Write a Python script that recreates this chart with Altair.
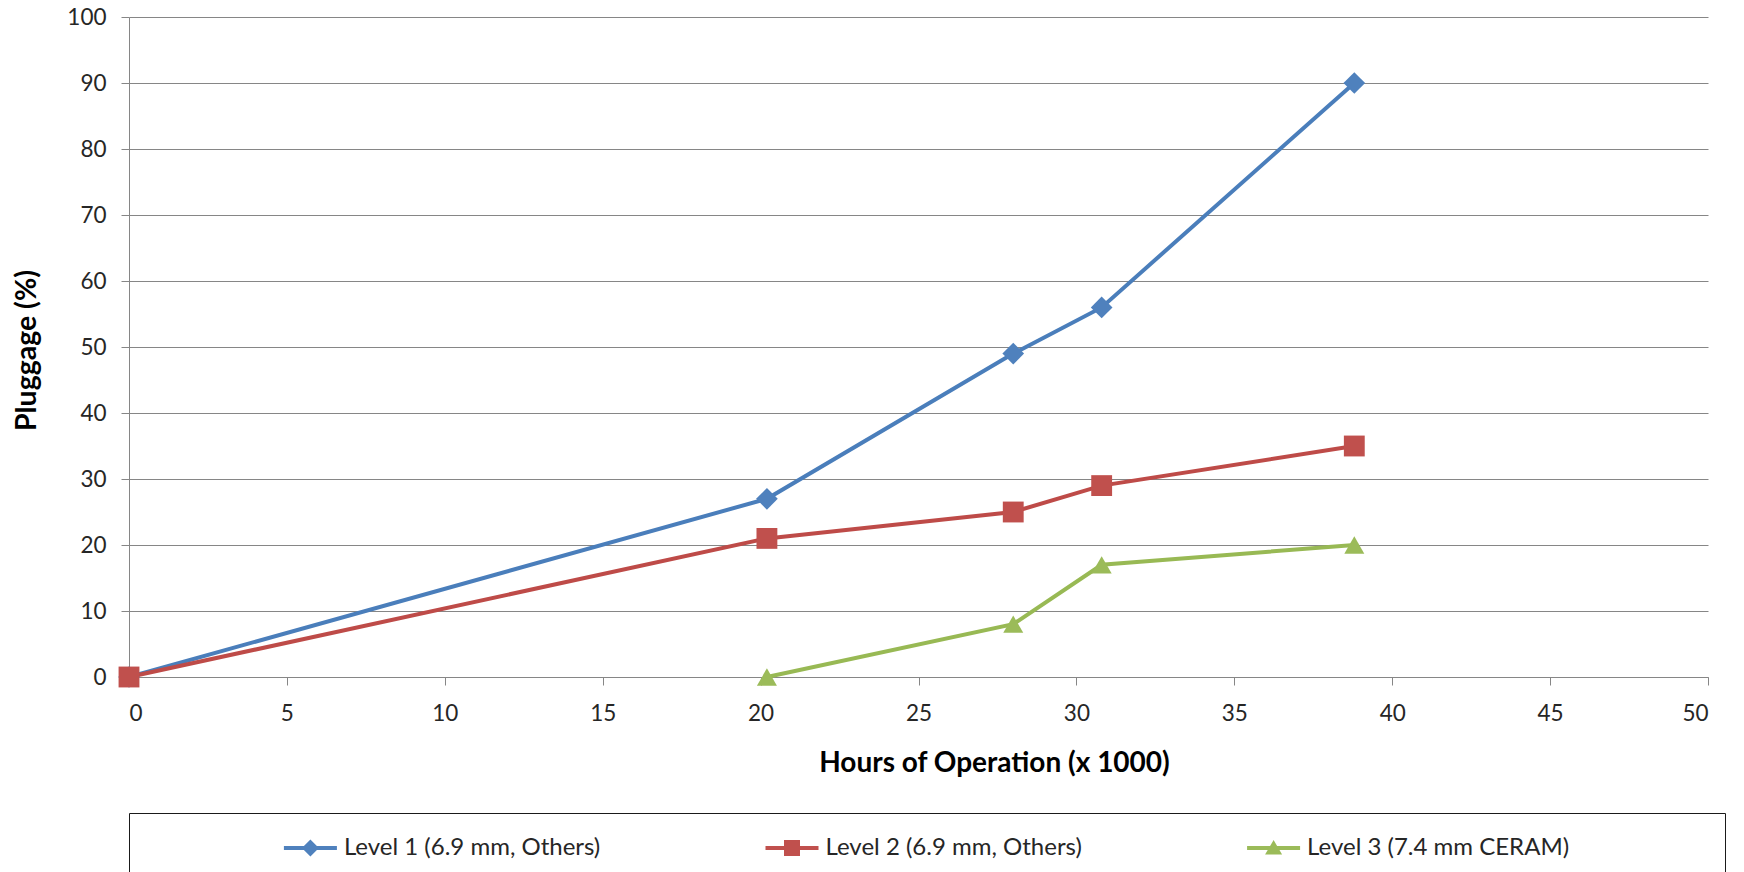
import altair as alt
import pandas as pd

# ---- data ----
SERIES = ["Level 1 (6.9 mm, Others)", "Level 2 (6.9 mm, Others)", "Level 3 (7.4 mm CERAM)"]
HOURS_L1 = [0, 20.2, 28.0, 30.8, 38.8]
PLUG_L1 = [0, 27, 49, 56, 90]
HOURS_L2 = [0, 20.2, 28.0, 30.8, 38.8]
PLUG_L2 = [0, 21, 25, 29, 35]
HOURS_L3 = [20.2, 28.0, 30.8, 38.8]
PLUG_L3 = [0, 8, 17, 20]
X_TICKS = [0, 5, 10, 15, 20, 25, 30, 35, 40, 45, 50]
Y_TICKS = [0, 10, 20, 30, 40, 50, 60, 70, 80, 90, 100]

# ---- styles ----
LINE_COLORS = ["#4A7EBB", "#BE4B48", "#98B954"]
FILL_COLORS = ["#4F81BD", "#C0504D", "#9BBB59"]
MARKERS = ["diamond", "square", "triangle-up"]
MARKER_SIZES = [470, 400, 340]
LEGEND_PATHS = [
    "M-2.65,-0.2H2.65V0.2H-2.65Z M0,-0.85L0.85,0L0,0.85L-0.85,0Z",
    "M-2.65,-0.2H2.65V0.2H-2.65Z M-0.8,-0.8H0.8V0.8H-0.8Z",
    "M-2.65,-0.2H2.65V0.2H-2.65Z M0,-0.8L0.85,0.65H-0.85Z",
]
GRID = "#868686"
TEXT = "#262626"
FONT = "Lato"

rows = []
for name, hs, ps in zip(SERIES, [HOURS_L1, HOURS_L2, HOURS_L3], [PLUG_L1, PLUG_L2, PLUG_L3]):
    for h, p in zip(hs, ps):
        rows.append({"series": name, "hours": h, "plug": p})
df = pd.DataFrame(rows)

x = alt.X(
    "hours:Q",
    scale=alt.Scale(domain=[0, 50], nice=False, zero=False),
    axis=alt.Axis(
        values=X_TICKS, title="Hours of Operation (x 1000)", grid=False,
        domainColor=GRID, tickColor=GRID, tickSize=8, labelPadding=17,
        labelFontSize=22.5, titleFontSize=28, titleFontWeight="bold",
        titleX=865, titleY=86, titleBaseline="middle", titleAlign="center",
        labelColor=TEXT, titleColor="#000000", labelFont=FONT, titleFont=FONT,
    ),
)
y = alt.Y(
    "plug:Q",
    scale=alt.Scale(domain=[0, 100], nice=False),
    axis=alt.Axis(
        values=Y_TICKS, title="Pluggage (%)", grid=True, gridColor=GRID,
        gridOpacity=1, gridWidth=1, domainColor=GRID, tickColor=GRID,
        tickSize=8, labelPadding=15, labelFontSize=22.5, titleFontSize=28.5,
        titleFontWeight="bold", titleX=-103, titleY=333, titleAngle=270,
        titleBaseline="middle", titleAlign="center",
        labelColor=TEXT, titleColor="#000000", labelFont=FONT, titleFont=FONT,
    ),
)

base = alt.Chart(df)
lines = base.mark_line(strokeWidth=4).encode(
    x=x, y=y,
    stroke=alt.Stroke("series:N", scale=alt.Scale(domain=SERIES, range=LINE_COLORS), legend=None),
)
points = base.mark_point(filled=True, opacity=1, strokeWidth=0).encode(
    x=x, y=y,
    fill=alt.Fill("series:N", scale=alt.Scale(domain=SERIES, range=FILL_COLORS), legend=None),
    shape=alt.Shape("series:N", scale=alt.Scale(domain=SERIES, range=MARKERS), legend=None),
    size=alt.Size("series:N", scale=alt.Scale(domain=SERIES, range=MARKER_SIZES), legend=None),
)
main = alt.layer(lines, points).properties(width=1579, height=660)

leg_df = pd.DataFrame({"series": SERIES})
leg_base = alt.Chart(leg_df).encode(
    x=alt.X("series:N", scale=alt.Scale(type="point", domain=SERIES, padding=0.657), axis=None),
    y=alt.value(35),
)
leg_sym = leg_base.mark_point(filled=True, opacity=1, strokeWidth=0, size=400, xOffset=-135).encode(
    fill=alt.Fill("series:N", scale=alt.Scale(domain=SERIES, range=FILL_COLORS), legend=None),
    shape=alt.Shape("series:N", scale=alt.Scale(domain=SERIES, range=LEGEND_PATHS), legend=None),
)
leg_txt = leg_base.mark_text(
    align="left", baseline="middle", dx=-101.5, font=FONT, fontSize=24, color=TEXT
).encode(text="series:N")
legend_panel = alt.layer(leg_sym, leg_txt).properties(
    width=1596, height=70, view=alt.ViewBackground(stroke="#1a1a1a", strokeWidth=1)
)

chart = (
    alt.vconcat(main, legend_panel, spacing=35)
    .resolve_scale(shape="independent", size="independent")
    .properties(padding={"left": 12, "top": 6, "right": 5, "bottom": 0}, background="white")
    .configure_view(stroke=None)
)

chart.save("out.html", embed_options={"renderer": "svg", "actions": False})
